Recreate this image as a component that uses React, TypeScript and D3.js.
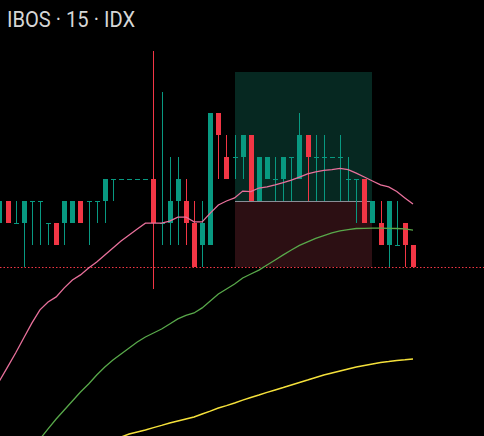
import React from "react";
import * as d3 from "d3";

const W = 484;
const H = 436;

const title = "IBOS · 15 · IDX";

// candle OHLC, index 0..51
const opens = [102,103,102,102,103,103,102,102,102,102,103,103,103,103,104,104,104,104,104,104,102,102,103,103,102,101,101,107,105,105,105,106,103,104,104,104,105,104,106,105,105,105,105,104,104,104,102,102,101,101,102,101];
const highs = [103,103,103,103,103,103,102,102,103,103,103,103,103,104,104,104,104,104,104,109.82,107.95,105,105,104,103,103,107,107,106,106,106,106,105,105,105,105,105,107,106,106,106,105,106,105,104,104,103,103,103,103,102,101];
const lows = [102,102,102,100,101,101,101,101,101,102,102,101,102,102,103,104,104,104,104,99,101,101,101,101,100,100,101,104,104,104,104,103,103,104,103,103,103,104,103,103,103,105,103,103,102,102,102,101,100,101,100,100];
const closes = [103,102,102,103,103,103,102,101,103,103,102,103,103,104,104,104,104,104,104,102,102,103,104,102,100,102,107,106,104,105,106,103,105,105,104,105,105,106,105,105,105,105,105,104,104,102,103,101,103,101,101,100];

// moving averages (fast, medium, slow) with starting index
const maFastStart = 0;
const maFast = [94.82,95.45,96.09,96.77,97.45,98.05,98.41,98.64,99.05,99.41,99.64,99.95,100.23,100.55,100.86,101.18,101.45,101.73,101.99,101.99,101.99,102.09,102.27,102.27,102.05,102.05,102.45,102.82,103.0,103.14,103.45,103.43,103.59,103.64,103.73,103.84,103.95,104.09,104.23,104.32,104.39,104.43,104.48,104.43,104.27,104.09,103.91,103.73,103.64,103.43,103.14,102.86];
const maMidStart = 5;
const maMid = [92.18,92.64,93.09,93.5,93.91,94.32,94.68,95.09,95.45,95.77,96.05,96.32,96.59,96.82,97.0,97.18,97.41,97.64,97.8,97.91,98.14,98.45,98.77,99.0,99.23,99.5,99.68,99.86,100.09,100.32,100.55,100.77,100.98,101.14,101.3,101.43,101.55,101.64,101.7,101.75,101.76,101.77,101.77,101.76,101.75,101.73,101.68];
const maSlowStart = 15;
const maSlow = [92.27,92.41,92.5,92.59,92.7,92.8,92.91,93.0,93.09,93.18,93.32,93.45,93.59,93.7,93.82,93.95,94.07,94.18,94.3,94.41,94.52,94.64,94.75,94.86,94.98,95.09,95.18,95.27,95.36,95.45,95.52,95.59,95.66,95.7,95.75,95.78,95.82];

// position (long) tool
const posStart = 29;
const posEnd = 46;
const takeProfit = 108.86;
const entry = 103;
const stopLoss = 100;
const lastPrice = 100;

const UP = "#089981";
const DOWN = "#f23645";

export default function App() {
  const x = d3.scaleLinear().domain([0, 51]).range([-0.6, 413]);
  const y = d3.scaleLinear().domain([100, 107]).range([267, 113]);
  const bw = 5;

  const mkLine = (vals: number[], start: number) =>
    d3
      .line<number>()
      .x((_, i) => x(i + start))
      .y((v) => y(v))(vals) || "";

  return (
    <svg
      width={W}
      height={H}
      style={{ position: "fixed", left: 0, top: 0, background: "#000", display: "block" }}
    >
      <rect x={0} y={0} width={W} height={H} fill="#000" />
      {/* position zones */}
      <rect
        x={Math.round(x(posStart))}
        y={Math.round(y(takeProfit))}
        width={Math.round(x(posEnd)) - Math.round(x(posStart))}
        height={y(entry) - Math.round(y(takeProfit))}
        fill="#062821"
      />
      <rect
        x={Math.round(x(posStart))}
        y={y(entry)}
        width={Math.round(x(posEnd)) - Math.round(x(posStart))}
        height={y(stopLoss) - y(entry)}
        fill="#2c0f13"
      />
      <line
        x1={Math.round(x(posStart))}
        x2={Math.round(x(posEnd))}
        y1={y(entry) + 0.5}
        y2={y(entry) + 0.5}
        stroke="#8a8d96"
        strokeWidth={1}
      />
      {/* last price line */}
      <line
        x1={0}
        x2={W}
        y1={y(lastPrice) + 0.5}
        y2={y(lastPrice) + 0.5}
        stroke={DOWN}
        strokeWidth={1}
        strokeDasharray="1.5 2"
      />
      {/* candles */}
      {opens.map((o, i) => {
        const c = closes[i];
        const col = c >= o ? UP : DOWN;
        const cx = Math.round(x(i)) + 0.5;
        const top = Math.round(y(Math.max(o, c)));
        const bot = Math.round(y(Math.min(o, c)));
        return (
          <g key={i}>
            <line
              x1={cx}
              x2={cx}
              y1={Math.round(y(highs[i]))}
              y2={Math.round(y(lows[i]))}
              stroke={col}
              strokeWidth={1}
            />
            {bot - top < 1 ? (
              <line
                x1={cx - bw / 2}
                x2={cx + bw / 2}
                y1={top + 0.5}
                y2={top + 0.5}
                stroke={col}
                strokeWidth={1}
              />
            ) : (
              <rect x={cx - bw / 2} y={top} width={bw} height={bot - top} fill={col} />
            )}
          </g>
        );
      })}
      {/* moving averages */}
      <path d={mkLine(maSlow, maSlowStart)} fill="none" stroke="#f5e13b" strokeWidth={1.5} />
      <path d={mkLine(maMid, maMidStart)} fill="none" stroke="#58a84a" strokeWidth={1.3} />
      <path d={mkLine(maFast, maFastStart)} fill="none" stroke="#e8709b" strokeWidth={1.3} />
      <text
        x={7}
        y={27}
        fill="#d6d6d6"
        fontFamily="Roboto, 'Noto Sans', sans-serif"
        fontSize={22}
        textLength={128}
        lengthAdjust="spacingAndGlyphs"
      >
        {title}
      </text>
    </svg>
  );
}
